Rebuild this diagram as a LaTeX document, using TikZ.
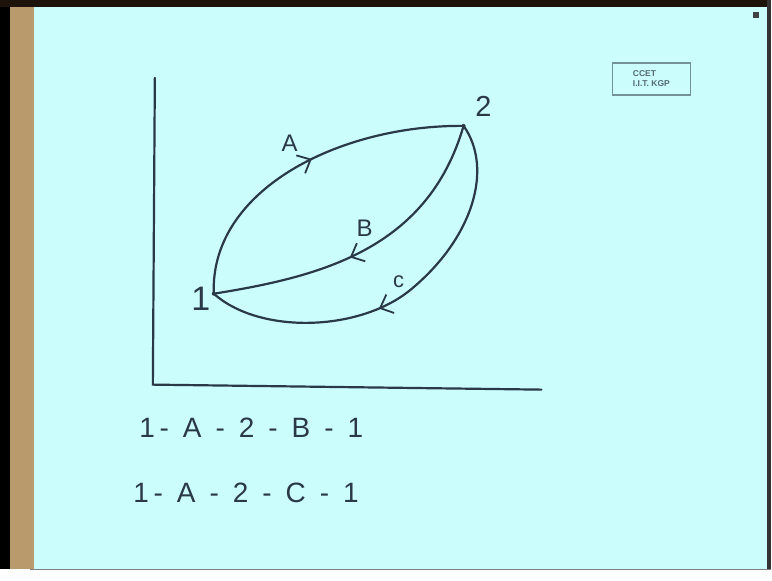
\documentclass[tikz,border=0pt]{standalone}
\usepackage{fontspec}
\setmainfont{Liberation Sans}
\usetikzlibrary{arrows.meta,decorations.markings}
\definecolor{slide}{HTML}{CBFDFD}
\definecolor{ink}{HTML}{2B3848}
\definecolor{frame}{HTML}{B99A6C}
\begin{document}
\begin{tikzpicture}[x=1pt,y=-1pt,
    pen/.style={ink,line width=2.2pt,line cap=round},
    flow/.style={pen,postaction={decorate},decoration={markings,
      mark=at position #1 with {\arrow[ink,line width=1.8pt]{Straight Barb[length=11pt,width=20pt]}}}},
    dot/.style={circle,fill=ink,inner sep=0pt,minimum size=4pt},
    lbl/.style={ink,font=\fontsize{24}{24}\selectfont}]
  % slide and its frame
  \fill[slide] (0,0) rectangle (772,581);
  \fill[frame] (10,0) rectangle (34,570);
  \fill[black] (0,0) rectangle (10,581);
  \fill[black!85!brown] (0,0) rectangle (772,7);
  \fill[white] (0,570) rectangle (772,581);
  \draw[gray,line width=1.5pt] (30,570) -- (772,570);
  \fill[black!80] (768,0) rectangle (772,570);
  \fill[black!75] (754,12) rectangle (760,18);
  % logo
  \node[draw=ink!55!slide,line width=1.2pt,minimum width=78pt,minimum height=32pt,
        text=ink!75!slide,align=left,font=\fontsize{8.5}{10}\selectfont\bfseries] (logo)
        at (652,79) {CCET\\I.I.T.\ KGP};
  % axes
  \coordinate (ytop) at (155,78);
  \coordinate (orig) at (153,385);
  \coordinate (xend) at (542,390);
  \draw[pen] (ytop) -- (orig) -- (xend);
  % states
  \node[dot] (p1) at (214,294) {};
  \node[dot] (p2) at (464,126) {};
  \node[ink,font=\fontsize{34}{34}\selectfont] (n1) at (201,299) {1};
  \node[ink,font=\fontsize{29}{29}\selectfont] (n2) at (484,106) {2};
  % paths
  \draw[flow=0.53] (p1.center) .. controls (210,190) and (340,125) .. (p2.center);
  \draw[flow=0.56] (p2.center) .. controls (428,250) and (320,277) .. (p1.center);
  \draw[flow=0.565] (p2.center) .. controls (494,168) and (474,238) .. (411,290)
                   .. controls (360,332) and (260,335) .. (p1.center);
  \node[lbl] (la) at (290,143) {A};
  \node[lbl] (lb) at (365,228) {B};
  \node[lbl,font=\fontsize{22}{22}\selectfont] (lc) at (399,282) {c};
  % cycles
  \node[ink,anchor=west,font=\fontsize{28}{28}\selectfont] (cyc1) at (136,428)
        {1\,-\enspace A\enspace -\enspace 2\enspace -\enspace B\enspace -\enspace 1};
  \node[ink,anchor=west,font=\fontsize{28}{28}\selectfont] (cyc2) at (130,493)
        {1\,-\enspace A\enspace -\enspace 2\enspace -\enspace C\enspace -\enspace 1};
\end{tikzpicture}
\end{document}
